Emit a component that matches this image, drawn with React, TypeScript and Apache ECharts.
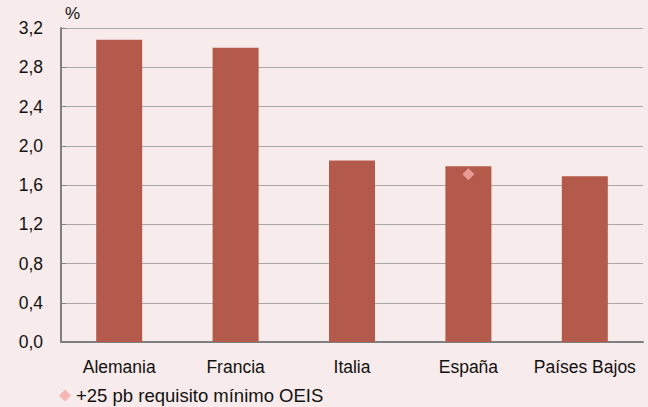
import React, { useEffect, useRef } from "react";
import * as echarts from "echarts";

const categories = ["Alemania", "Francia", "Italia", "España", "Países Bajos"];
const barValues = [3.08, 3.0, 1.85, 1.79, 1.69];
const oeisValues: (number | string)[] = ["-", "-", "-", 1.71, "-"];
const oeisName = "+25 pb requisito mínimo OEIS";

export default function App() {
  const ref = useRef<HTMLDivElement>(null);
  useEffect(() => {
    const chart = echarts.init(ref.current!, null, { renderer: "svg" });
    const font = "'Liberation Sans', Arial, Helvetica, sans-serif";
    chart.setOption({
      animation: false,
      backgroundColor: "#f8ebeb",
      textStyle: { fontFamily: font },
      grid: { left: 61, right: 5, top: 28, bottom: 65, containLabel: false },
      legend: {
        left: 59,
        top: 386,
        padding: 0,
        itemWidth: 12,
        itemHeight: 12,
        itemGap: 5,
        data: [{ name: oeisName, icon: "diamond" }],
        textStyle: { fontSize: 18.5, color: "#111", fontFamily: font, padding: [0, 0, 0, 0] },
      },
      xAxis: {
        type: "category",
        data: categories,
        axisLine: { lineStyle: { color: "#7f7f7f", width: 2 } },
        axisTick: { inside: true, length: 5, lineStyle: { color: "#7f7f7f", width: 1.5 } },
        axisLabel: { fontSize: 17.5, color: "#111", margin: 16, fontFamily: font, interval: 0 },
      },
      yAxis: {
        type: "value",
        min: 0,
        max: 3.2,
        interval: 0.4,
        name: "%",
        nameLocation: "end",
        nameGap: 6,
        nameTextStyle: { fontSize: 17, color: "#111", align: "left", padding: [0, 0, 0, 4] },
        axisLine: { show: true, lineStyle: { color: "#7f7f7f", width: 2 } },
        axisTick: { show: true, inside: true, length: 5, lineStyle: { color: "#7f7f7f" } },
        splitLine: { lineStyle: { color: "#a8a8a8", width: 1 } },
        axisLabel: {
          fontSize: 17.5,
          color: "#111",
          margin: 18,
          fontFamily: font,
          formatter: (v: number) => v.toFixed(1).replace(".", ","),
        },
      },
      series: [
        {
          type: "bar",
          data: barValues,
          barWidth: 46,
          itemStyle: { color: "#b35a4b" },
          z: 2,
        },
        {
          name: oeisName,
          type: "scatter",
          data: oeisValues,
          symbol: "diamond",
          symbolSize: 12,
          itemStyle: { color: "#f5aaa6" },
          z: 3,
        },
      ],
    });
    return () => chart.dispose();
  }, []);
  return <div ref={ref} style={{ width: 648, height: 407, position: "absolute", left: 0, top: 0 }} />;
}
